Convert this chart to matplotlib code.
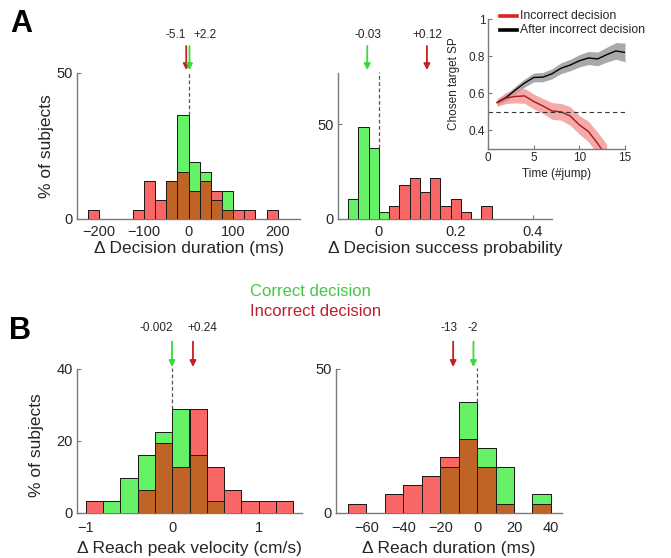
import matplotlib
matplotlib.use("Agg")
import matplotlib.pyplot as plt
import numpy as np
from matplotlib.lines import Line2D

plt.rcParams['font.family'] = ['Liberation Sans', 'DejaVu Sans']

# ---------------- data ----------------
# Panel A1: decision duration (ms)
a1_edges = list(range(-225, 201, 25))
a1_red = [3.2, 0, 0, 0, 3.2, 12.9, 6.5, 12.9, 16.1, 9.7, 12.9, 9.7, 3.2, 3.2, 3.2, 0, 3.2]
a1_green = [0, 0, 0, 0, 0, 0, 0, 12.9, 35.5, 19.4, 16.1, 6.5, 9.7, 0, 0, 0, 0]
a1_means = {'red': -5.1, 'green': 2.2}
a1_labels = ['-5.1', '+2.2']

# Panel A2: decision success probability
a2_bw = 0.08 / 3
a2_edges = [k * a2_bw for k in range(-3, 12)]
a2_green = [10.6, 48.6, 37.5, 3.5, 0, 0, 0, 0, 0, 0, 0, 0, 0, 0]
a2_red = [0, 0, 0, 0, 7.0, 18.0, 21.5, 14.4, 21.5, 7.0, 10.6, 3.5, 0, 7.0]
a2_means = {'red': 0.125, 'green': -0.03}
a2_labels = ['-0.03', '+0.12']

# Inset: chosen target SP over time
t_black = list(range(1, 16))
black_mean = [0.55, 0.578, 0.618, 0.655, 0.685, 0.687, 0.705, 0.735, 0.752, 0.775, 0.79, 0.785, 0.808, 0.828, 0.82]
black_se = [0.015, 0.018, 0.02, 0.022, 0.024, 0.025, 0.027, 0.029, 0.031, 0.033, 0.035, 0.037, 0.04, 0.045, 0.05]
t_red = list(range(1, 14))
red_mean = [0.55, 0.575, 0.583, 0.586, 0.556, 0.532, 0.505, 0.5, 0.478, 0.43, 0.394, 0.33, 0.26]
red_se = [0.02, 0.03, 0.035, 0.04, 0.04, 0.04, 0.045, 0.045, 0.05, 0.05, 0.055, 0.06, 0.065]

# Panel B1: reach peak velocity (cm/s)
b1_edges = [round(-1.0 + 0.2 * k, 2) for k in range(13)]
b1_red = [3.2, 0, 0, 6.5, 19.4, 12.9, 29.0, 12.9, 6.5, 3.2, 3.2, 3.2]
b1_green = [0, 3.2, 9.7, 16.1, 22.6, 29.0, 16.1, 3.2, 0, 0, 0, 0]
b1_means = {'red': 0.24, 'green': -0.002}
b1_labels = ['-0.002', '+0.24']

# Panel B2: reach duration (ms)
b2_edges = list(range(-70, 41, 10))
b2_red = [3.2, 0, 6.5, 9.7, 12.9, 19.4, 25.8, 16.1, 3.2, 0, 3.2]
b2_green = [0, 0, 0, 0, 0, 16.1, 38.7, 22.6, 16.1, 0, 6.5]
b2_means = {'red': -13, 'green': -2}
b2_labels = ['-13', '-2']

# ---------------- style ----------------
GREEN = '#66F266'
RED = '#F96666'
BROWN = '#BF6326'
EDGE = '#1a1a1a'
ARROW_RED = '#C81E1E'
ARROW_GREEN = '#33DD33'
SPINE = '#7a7a7a'
TXT = '#262626'

W, H = 671, 558
fig = plt.figure(figsize=(W / 100, H / 100), dpi=100)


def px_axes(l, r, t, b):
    return fig.add_axes([l / W, 1 - b / H, (r - l) / W, (b - t) / H])


def style_axes(ax, fs=10.5, xpad=3):
    for s in ['top', 'right']:
        ax.spines[s].set_visible(False)
    for s in ['left', 'bottom']:
        ax.spines[s].set_color(SPINE)
        ax.spines[s].set_linewidth(1.0)
    ax.tick_params(direction='in', length=3, width=0.8, color=SPINE,
                   labelsize=fs, labelcolor=TXT, pad=3)
    ax.tick_params(axis='x', pad=xpad)


def hist_panel(ax, edges, red, green):
    edges = np.asarray(edges, float)
    left = edges[:-1]
    w = np.diff(edges)
    red = np.asarray(red, float)
    green = np.asarray(green, float)
    ov = np.minimum(red, green)
    ax.bar(left, green, width=w, align='edge', color=GREEN, edgecolor=EDGE, linewidth=0.7, zorder=2)
    ax.bar(left, red, width=w, align='edge', color=RED, edgecolor=EDGE, linewidth=0.7, zorder=2)
    m = ov > 0
    ax.bar(left[m], ov[m], width=w[m], align='edge', color=BROWN, edgecolor=EDGE, linewidth=0.7, zorder=3)
    taller_g = green > red
    ax.bar(left[taller_g], green[taller_g] - red[taller_g], bottom=red[taller_g], width=w[taller_g],
           align='edge', color=GREEN, edgecolor=EDGE, linewidth=0.7, zorder=3)
    taller_r = red > green
    ax.bar(left[taller_r], red[taller_r] - green[taller_r], bottom=green[taller_r], width=w[taller_r],
           align='edge', color=RED, edgecolor=EDGE, linewidth=0.7, zorder=3)


def mean_marks(ax, means, labels, label_x, dash_top_bar, tip, start, ty):
    tr = ax.get_xaxis_transform()
    for key, col in (('red', ARROW_RED), ('green', ARROW_GREEN)):
        x = means[key]
        ax.annotate('', xy=(x, tip), xytext=(x, start), xycoords=tr, textcoords=tr,
                    arrowprops=dict(arrowstyle='-|>', color=col, lw=1.3,
                                    mutation_scale=9, shrinkA=0, shrinkB=0),
                    annotation_clip=False, zorder=5)
    for lab, lx in zip(labels, label_x):
        ax.text(lx, ty, lab, transform=tr, ha='center', va='center', fontsize=8.5, color=TXT)
    ylim = ax.get_ylim()[1]
    ax.plot([0, 0], [dash_top_bar, ylim * 1.005], ls=(0, (3, 2)), color='#555555', lw=0.9,
            clip_on=False, zorder=4)


def xlabel_at(ax, text, ypx_below, axh):
    ax.set_xlabel(text, fontsize=12.5, color=TXT)
    ax.xaxis.set_label_coords(0.5, -ypx_below / axh)
    ax.xaxis.label.set_va('center')


# ---------------- A1 ----------------
ax1 = px_axes(77, 300, 73, 219)
hist_panel(ax1, a1_edges, a1_red, a1_green)
ax1.set_xlim(-250, 250)
ax1.set_ylim(0, 50)
ax1.set_xticks([-200, -100, 0, 100, 200])
ax1.set_yticks([0, 50])
style_axes(ax1, xpad=4.5)
ax1.set_ylabel('% of subjects', fontsize=12.5, color=TXT)
ax1.yaxis.set_label_coords(-31 / 223, 0.5)
ax1.yaxis.label.set_va('center')
xlabel_at(ax1, 'Δ Decision duration (ms)', 30, 146)
mean_marks(ax1, a1_means, a1_labels, [-29, 36], max(a1_green[8], a1_red[8]),
           tip=1.02, start=1.185, ty=1.26)

# ---------------- A2 ----------------
ax2 = px_axes(338, 552, 73, 219)
hist_panel(ax2, a2_edges, a2_red, a2_green)
ax2.set_xlim(-0.106, 0.45)
ax2.set_ylim(0, 77)
ax2.set_xticks([0, 0.2, 0.4])
ax2.set_xticklabels(['0', '0.2', '0.4'])
ax2.set_yticks([0, 50])
style_axes(ax2, xpad=4.5)
xlabel_at(ax2, 'Δ Decision success probability', 30, 146)
mean_marks(ax2, a2_means, a2_labels, [-0.029, 0.125], a2_green[2],
           tip=1.02, start=1.185, ty=1.26)

# ---------------- inset ----------------
axi = px_axes(488, 625, 19, 149)
axi.set_zorder(10)
bm, bs = np.array(black_mean), np.array(black_se)
rm, rs = np.array(red_mean), np.array(red_se)
axi.fill_between(t_black, bm - bs, bm + bs, color='#9a9a9a', alpha=0.85, lw=0)
axi.fill_between(t_red, rm - rs, rm + rs, color='#F28C8C', alpha=0.75, lw=0)
axi.plot(t_black, bm, color='black', lw=1.0)
axi.plot(t_red, rm, color='#A81818', lw=1.0)
axi.plot([0, 15], [0.5, 0.5], ls=(0, (4, 3)), color='#333333', lw=0.8)
axi.set_xlim(0, 15)
axi.set_ylim(0.3, 1)
axi.set_xticks([0, 5, 10, 15])
axi.set_yticks([0.4, 0.6, 0.8, 1.0])
axi.set_yticklabels(['0.4', '0.6', '0.8', '1'])
style_axes(axi, fs=8.5, xpad=2.5)
axi.tick_params(axis='y', pad=2)
axi.set_xlabel('Time (#jump)', fontsize=8.5, color=TXT, labelpad=0)
axi.xaxis.set_label_coords(0.5, -25 / 130)
axi.xaxis.label.set_va('center')
axi.set_ylabel('Chosen target SP', fontsize=8.5, color=TXT)
axi.yaxis.set_label_coords(-34 / 137, 0.5)
axi.yaxis.label.set_va('center')
for yy, col, lab in ((1.023, '#E02020', 'Incorrect decision'), (0.915, 'black', 'After incorrect decision')):
    axi.add_line(Line2D([0.088, 0.212], [yy, yy], transform=axi.transAxes, color=col, lw=2.6,
                        clip_on=False))
    axi.text(0.234, yy, lab, transform=axi.transAxes, fontsize=8.8, color=TXT, va='center',
             ha='left', clip_on=False)

# ---------------- middle legend texts ----------------
fig.text(250 / W, 1 - 291 / H, 'Correct decision', color='#44C844', fontsize=12, va='center', ha='left')
fig.text(250 / W, 1 - 311 / H, 'Incorrect decision', color='#BE1E2D', fontsize=12, va='center', ha='left')

# ---------------- B1 ----------------
ax3 = px_axes(77, 302, 369, 513)
hist_panel(ax3, b1_edges, b1_red, b1_green)
ax3.set_xlim(-1.1, 1.5)
ax3.set_ylim(0, 40)
ax3.set_xticks([-1, 0, 1])
ax3.set_yticks([0, 20, 40])
style_axes(ax3, xpad=6)
ax3.set_ylabel('% of subjects', fontsize=12.5, color=TXT)
ax3.yaxis.set_label_coords(-40 / 225, 0.47)
ax3.yaxis.label.set_va('center')
xlabel_at(ax3, 'Δ Reach peak velocity (cm/s)', 36, 144)
mean_marks(ax3, b1_means, b1_labels, [-0.185, 0.35], b1_green[5],
           tip=1.014, start=1.19, ty=1.285)

# ---------------- B2 ----------------
ax4 = px_axes(336, 562, 369, 513)
hist_panel(ax4, b2_edges, b2_red, b2_green)
ax4.set_xlim(-76.5, 46)
ax4.set_ylim(0, 50)
ax4.set_xticks([-60, -40, -20, 0, 20, 40])
ax4.set_yticks([0, 50])
style_axes(ax4, xpad=6)
xlabel_at(ax4, 'Δ Reach duration (ms)', 36, 144)
mean_marks(ax4, b2_means, b2_labels, [-15.3, -2.3], b2_green[6],
           tip=1.014, start=1.19, ty=1.285)

# ---------------- panel letters ----------------
fig.text(10 / W, 1 - 24 / H, 'A', fontsize=22, fontweight='bold', va='center', ha='left')
fig.text(9 / W, 1 - 331 / H, 'B', fontsize=22, fontweight='bold', va='center', ha='left')

fig.savefig('out.png', dpi=100)
